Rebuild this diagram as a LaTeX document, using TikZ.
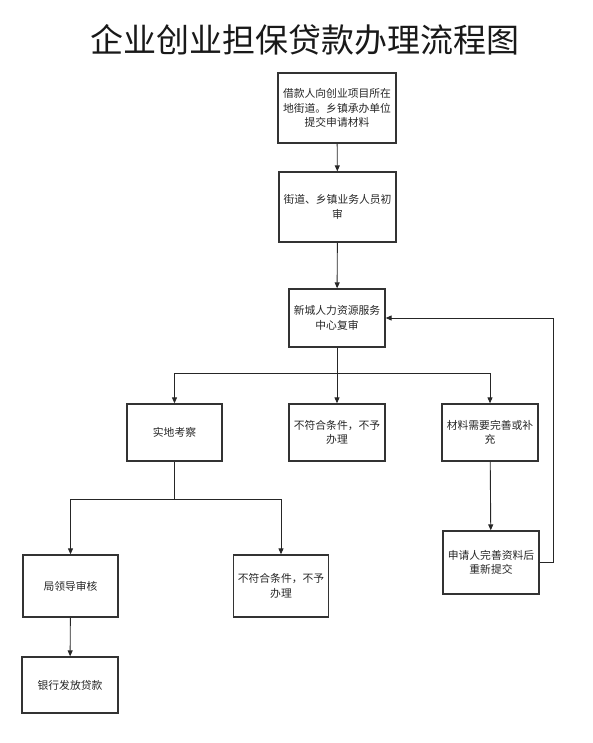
\documentclass[tikz,border=0pt]{standalone}
\usepackage{fontspec}
\newfontfamily\cjk{Noto Sans CJK SC}
\usetikzlibrary{arrows.meta}
\begin{document}
\begin{tikzpicture}[x=1pt,y=-1pt,
  box/.style={draw=black!80,line width=1.3pt,rectangle,inner sep=0pt,align=center,
    font=\cjk\fontsize{10.8}{14.5}\selectfont,text=black!85},
  arr/.style={draw=black!85,line width=0.9pt,-{Triangle[length=6pt,width=5pt]}},
  ln/.style={draw=black!85,line width=0.9pt}]
\useasboundingbox (0,0) rectangle (593,743);
\node[font=\cjk\fontsize{33}{38}\selectfont,text=black!90] (title) at (305,40) {企业创业担保贷款办理流程图};
\node[box,minimum width=118pt,minimum height=70pt] (b1) at (337,108) {借款人向创业项目所在\\地街道。乡镇承办单位\\提交申请材料};
\node[box,minimum width=117pt,minimum height=70pt] (b2) at (337.5,207) {街道、乡镇业务人员初\\审};
\node[box,minimum width=96pt,minimum height=58pt] (b3) at (337,318) {新城人力资源服务\\中心复审};
\node[box,minimum width=95pt,minimum height=57pt] (c1) at (174.5,432.5) {实地考察};
\node[box,minimum width=96pt,minimum height=57pt] (c2) at (337,432.5) {不符合条件，不予\\办理};
\node[box,minimum width=96pt,minimum height=57pt] (c3) at (490,432.5) {材料需要完善或补\\充};
\node[box,minimum width=95pt,minimum height=62pt] (d1) at (70.5,586) {局领导审核};
\node[box,minimum width=95pt,minimum height=62pt] (d2) at (281,586) {不符合条件，不予\\办理};
\node[box,minimum width=96pt,minimum height=63pt] (d3) at (491,562.5) {申请人完善资料后\\重新提交};
\node[box,minimum width=96pt,minimum height=56pt] (e1) at (70,685) {银行发放贷款};
\coordinate (j1) at (337,373);
\coordinate (j2) at (174.5,499.5);
\coordinate (r1) at (553,562.5);
\coordinate (r2) at (553,318);
\draw[arr] (b1) -- (b2);
\draw[arr] (b2) -- (b3);
\draw[ln] (b3) -- (j1);
\draw[arr] (j1) -| (c1);
\draw[arr] (j1) -- (c2);
\draw[arr] (j1) -| (c3);
\draw[ln] (c1) -- (j2);
\draw[arr] (j2) -| (d1);
\draw[arr] (j2) -| (d2);
\draw[arr] (c3) -- (d3);
\draw[arr] (d1) -- (e1);
\draw[arr] (d3.east) -- (r1) -- (r2) -- (b3.east);
\end{tikzpicture}
\end{document}
